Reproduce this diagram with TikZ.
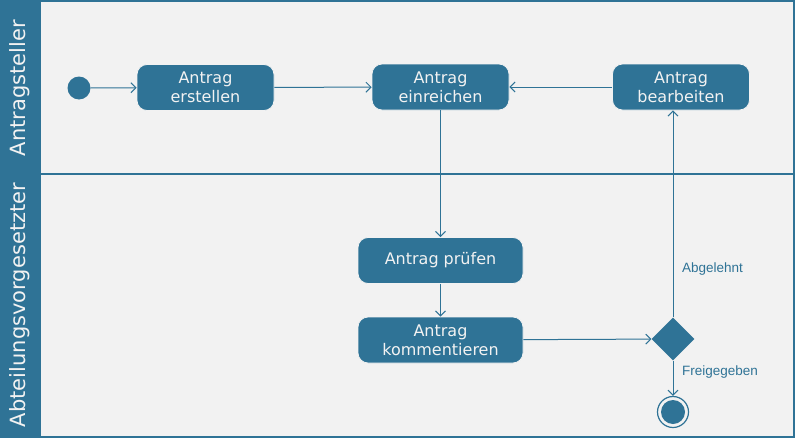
\documentclass[tikz,border=0pt]{standalone}
\usepackage{fontspec}
\setmainfont{DejaVu Sans}
\newfontfamily\lblfont{Liberation Sans}
\usetikzlibrary{arrows.meta,shapes.geometric}
\definecolor{umlblue}{HTML}{2F7396}
\definecolor{lanebg}{HTML}{F2F2F2}
\begin{document}
\begin{tikzpicture}[x=1pt,y=-1pt,
  act/.style={draw=lanebg,line width=0.8pt,fill=umlblue,rounded corners=10pt,text=lanebg,
    minimum width=#1,minimum height=46pt,align=center,inner sep=0pt,
    font=\fontsize{16}{19}\selectfont},
  act/.default=137pt,
  flow/.style={draw=umlblue,line width=1pt,-{Straight Barb[length=5pt,width=10pt]}},
  lbl/.style={text=umlblue,font=\lblfont\fontsize{13.5}{16}\selectfont,anchor=west,inner sep=0pt},
  lanetxt/.style={text=lanebg,rotate=90,font=\fontsize{21}{25}\selectfont,inner sep=0pt}]
\useasboundingbox (0,0) rectangle (796,442);
\fill[white] (0,0) rectangle (796,442);
% lanes
\fill[lanebg] (40,2) rectangle (794,437);
\fill[umlblue] (0,1) rectangle (40,438);
\draw[umlblue,line width=2pt] (0,1) -- (794,1) -- (794,437) -- (0,437);
\draw[umlblue,line width=1.5pt] (40,2) -- (40,437);
\draw[umlblue,line width=1.5pt] (0,174) -- (794,174);
\node[lanetxt] (lane1) at (20,88) {Antragsteller};
\node[lanetxt] (lane2) at (20,305) {Abteilungsvorgesetzter};
% nodes
\node[circle,fill=umlblue,minimum size=23pt,inner sep=0pt] (init) at (79,88) {};
\node[act] (erst) at (205.5,87.5) {Antrag\\erstellen};
\node[act] (einr) at (440.5,87) {Antrag\\einreichen};
\node[act] (bearb) at (681,87) {Antrag\\bearbeiten};
\node[act=165pt] (pruef) at (440.5,260.5) {Antrag prüfen};
\node[act=165pt] (komm) at (440.5,340) {Antrag\\kommentieren};
\node[diamond,fill=umlblue,minimum width=43pt,minimum height=43pt,inner sep=0pt] (dec) at (673,339) {};
\node[circle,draw=umlblue,line width=1.2pt,fill=lanebg,minimum size=31pt,inner sep=0pt] (final) at (673,412) {};
\node[circle,fill=umlblue,minimum size=24pt,inner sep=0pt] (finalin) at (final.center) {};
% flows
\draw[flow] (init) -- (erst);
\draw[flow] (erst) -- (einr);
\draw[flow] (bearb) -- (einr);
\draw[flow] (einr) -- (pruef);
\draw[flow] (pruef) -- (komm);
\draw[flow] (komm) -- (dec);
\draw[flow] (dec) -- (dec |- bearb.south);
\draw[flow] (dec) -- (final);
\node[lbl] (abg) at (682,269) {Abgelehnt};
\node[lbl] (frei) at (682,372) {Freigegeben};
\end{tikzpicture}
\end{document}
